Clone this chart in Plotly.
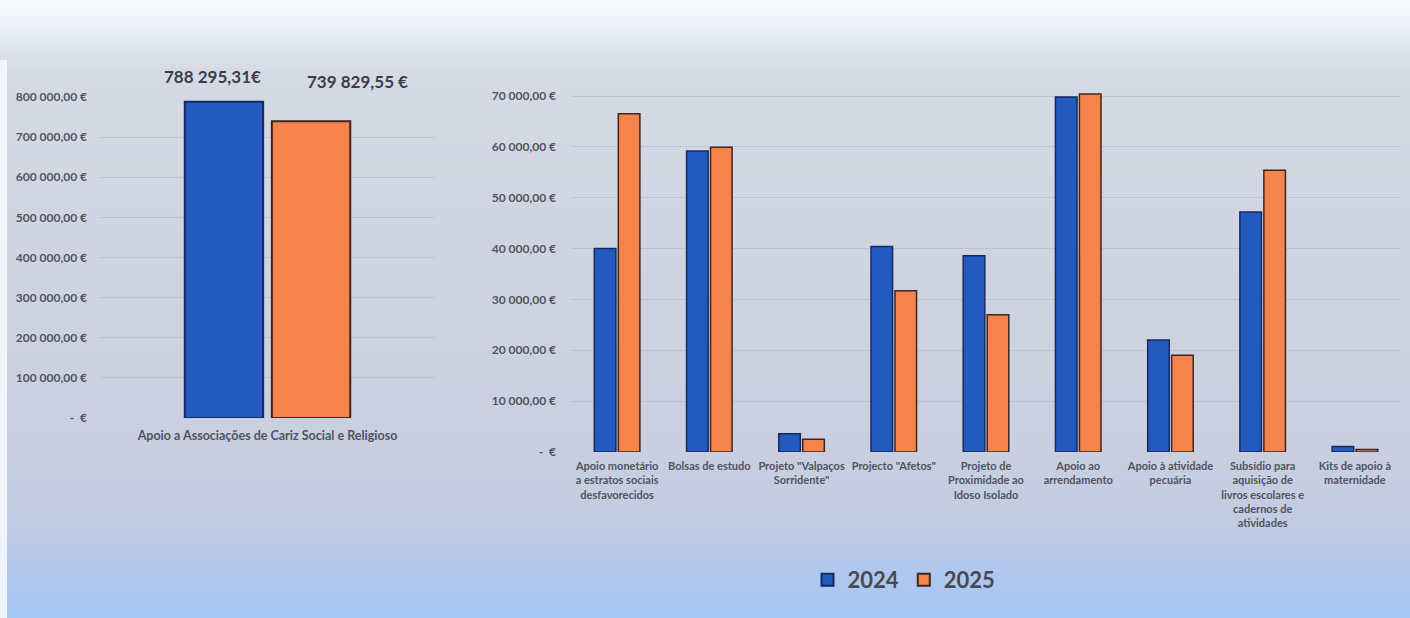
import plotly.graph_objects as go

# ---------------- data ----------------
left_categories = ["Apoio a Associações de Cariz Social e Religioso"]
left_2024 = [788295.31]
left_2025 = [739829.55]

right_categories = [
    "Apoio monetário a estratos sociais desfavorecidos",
    "Bolsas de estudo",
    'Projeto "Valpaços Sorridente"',
    'Projecto "Afetos"',
    "Projeto de Proximidade ao Idoso Isolado",
    "Apoio ao arrendamento",
    "Apoio à atividade pecuária",
    "Subsídio para aquisição de livros escolares e cadernos de atividades",
    "Kits de apoio à maternidade",
]
right_ticklabels = [
    "Apoio monetário<br>a estratos sociais<br>desfavorecidos",
    "Bolsas de estudo",
    'Projeto "Valpaços<br>Sorridente"',
    'Projecto "Afetos"',
    "Projeto de<br>Proximidade ao<br>Idoso Isolado",
    "Apoio ao<br>arrendamento",
    "Apoio à atividade<br>pecuária",
    "Subsídio para<br>aquisição de<br>livros escolares e<br>cadernos de<br>atividades",
    "Kits de apoio à<br>maternidade",
]
right_2024 = [40000, 59200, 3600, 40400, 38600, 69800, 22000, 47200, 1100]
right_2025 = [66500, 59900, 2500, 31700, 27000, 70400, 19000, 55400, 500]

left_yticks = [0, 100000, 200000, 300000, 400000, 500000, 600000, 700000, 800000]
left_yticklabels = ["-  €", "100 000,00 €", "200 000,00 €", "300 000,00 €", "400 000,00 €",
                    "500 000,00 €", "600 000,00 €", "700 000,00 €", "800 000,00 €"]
right_yticks = [0, 10000, 20000, 30000, 40000, 50000, 60000, 70000]
right_yticklabels = ["-  €", "10 000,00 €", "20 000,00 €", "30 000,00 €", "40 000,00 €",
                     "50 000,00 €", "60 000,00 €", "70 000,00 €"]
series_names = ["2024", "2025"]

# ---------------- style ----------------
W, H = 1410, 618
BLUE, BLUE_EDGE = "#2459be", "#142a62"
ORANGE, ORANGE_EDGE = "#f5844c", "#3e261b"
FONT = "Lato"
TXT = "#50545f"


def eur(v):
    s = f"{v:,.2f}"
    ip, dp = s.split(".")
    return ip.replace(",", " ") + "," + dp


fig = go.Figure()

fig.add_trace(go.Bar(x=left_categories, y=left_2024, name=series_names[0],
                     marker=dict(color=BLUE, line=dict(color=BLUE_EDGE, width=2)),
                     xaxis="x", yaxis="y", legendgroup="a", showlegend=True))
fig.add_trace(go.Bar(x=left_categories, y=left_2025, name=series_names[1],
                     marker=dict(color=ORANGE, line=dict(color=ORANGE_EDGE, width=2)),
                     xaxis="x", yaxis="y", legendgroup="b", showlegend=True))
fig.add_trace(go.Bar(x=right_categories, y=right_2024, name=series_names[0],
                     marker=dict(color=BLUE, line=dict(color=BLUE_EDGE, width=1.5)),
                     xaxis="x2", yaxis="y2", legendgroup="a", showlegend=False))
fig.add_trace(go.Bar(x=right_categories, y=right_2025, name=series_names[1],
                     marker=dict(color=ORANGE, line=dict(color=ORANGE_EDGE, width=1.5)),
                     xaxis="x2", yaxis="y2", legendgroup="b", showlegend=False))

# background gradient bands (pixel rows -> colours)
stops = [(0, (248, 249, 252)), (25, (238, 241, 247)), (50, (222, 227, 238)),
         (70, (214, 218, 228)), (250, (208, 212, 225)), (450, (201, 207, 224)),
         (525, (193, 203, 226)), (570, (177, 199, 236)), (618, (164, 198, 244))]


def col_at(py):
    for (y0, c0), (y1, c1) in zip(stops[:-1], stops[1:]):
        if y0 <= py <= y1:
            t = (py - y0) / (y1 - y0) if y1 > y0 else 0
            return tuple(round(a + (b - a) * t) for a, b in zip(c0, c1))
    return stops[-1][1]


shapes = []
step = 4
for py in range(0, H, step):
    c = col_at(py + step / 2)
    shapes.append(dict(type="rect", xref="paper", yref="paper", layer="below",
                       x0=-0.01, x1=1.01, y0=1 - (py + step + 2) / H, y1=1 - py / H + (0.02 if py == 0 else 0),
                       fillcolor=f"rgb{c}", line=dict(width=0)))
shapes.append(dict(type="rect", xref="paper", yref="paper", layer="below",
                   x0=-0.01, x1=7 / W, y0=-0.02, y1=1 - 60 / H,
                   fillcolor="rgba(245,247,252,0.9)", line=dict(width=0)))

annotations = [
    dict(x=left_categories[0], y=left_2024[0], xref="x", yref="y", text=eur(left_2024[0]) + "€",
         showarrow=False, xshift=-55, yshift=13, yanchor="bottom",
         font=dict(family=FONT, size=17, color="#3b3e4a", weight="bold")),
    dict(x=left_categories[0], y=left_2025[0], xref="x", yref="y", text=eur(left_2025[0]) + " €",
         showarrow=False, xshift=90, yshift=27, yanchor="bottom",
         font=dict(family=FONT, size=17, color="#3b3e4a", weight="bold")),
]

grid = "rgba(140,150,175,0.28)"
tickfont = dict(family=FONT, size=12, color=TXT, weight="bold")
catfont_l = dict(family=FONT, size=12.5, color=TXT, weight="bold")
catfont = dict(family=FONT, size=11, color=TXT, weight="bold")

R2 = 71500
top2 = 452 - (452 - 96) * R2 / 70000

fig.update_layout(
    template="none",
    width=W, height=H,
    margin=dict(l=0, r=0, t=0, b=0, pad=0, autoexpand=False),
    paper_bgcolor="rgb(207,212,225)",
    plot_bgcolor="rgba(0,0,0,0)",
    barmode="group", bargap=0.48, bargroupgap=0.1,
    shapes=shapes, annotations=annotations,
    font=dict(family=FONT, color=TXT),
    xaxis=dict(domain=[100 / W, 435 / W], anchor="y", showgrid=False, showline=False,
               zeroline=False, ticks="", tickfont=catfont_l, ticklabelstandoff=8,
               automargin=False),
    yaxis=dict(domain=[1 - 418 / H, 1 - 97 / H], anchor="x", range=[0, 800000],
               tickvals=left_yticks, ticktext=left_yticklabels, showgrid=True,
               gridcolor=grid, gridwidth=1, zeroline=False, showline=False, ticks="",
               tickfont=tickfont, ticklabelstandoff=12, automargin=False),
    xaxis2=dict(domain=[571 / W, 1401 / W], anchor="y2", showgrid=False, showline=False,
                zeroline=False, ticks="", tickfont=catfont, ticklabelstandoff=6,
                tickvals=right_categories, ticktext=right_ticklabels, tickangle=0,
                automargin=False),
    yaxis2=dict(domain=[1 - 452 / H, 1 - top2 / H], anchor="x2", range=[0, R2],
                tickvals=right_yticks, ticktext=right_yticklabels, showgrid=True,
                gridcolor=grid, gridwidth=1, zeroline=False, showline=False, ticks="",
                tickfont=tickfont, ticklabelstandoff=14, automargin=False),
    legend=dict(orientation="h", x=904 / W, y=1 - 580 / H, xanchor="center", yanchor="middle",
                bgcolor="rgba(0,0,0,0)", itemwidth=30,
                font=dict(family=FONT, size=22, color="#454955", weight="bold")),
)

fig.write_html("out.html")
